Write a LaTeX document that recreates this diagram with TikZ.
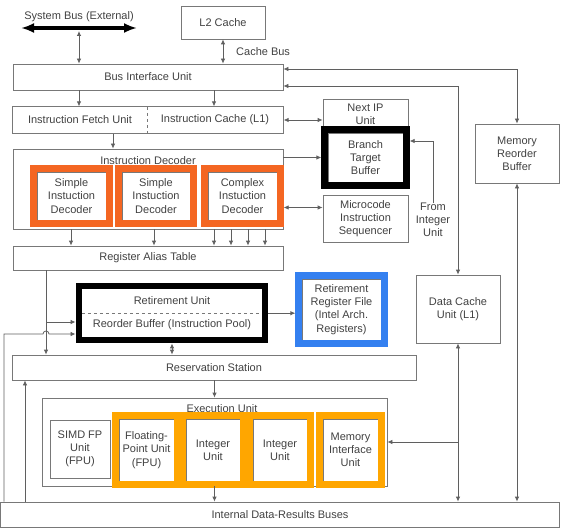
\documentclass[tikz,border=0pt]{standalone}
\usepackage{fontspec}
\setmainfont{Liberation Sans}
\usetikzlibrary{positioning,arrows.meta,fit}
\definecolor{cpuLine}{RGB}{95,95,95}
\definecolor{cpuBox}{RGB}{120,120,120}
\definecolor{cpuText}{RGB}{65,65,65}
\definecolor{cpuOrange}{RGB}{244,102,34}
\definecolor{cpuAmber}{RGB}{255,166,0}
\definecolor{cpuBlue}{RGB}{52,128,240}

\begin{document}
\begin{tikzpicture}[x=1pt, y=-1pt,
  font=\fontsize{11}{13.2}\selectfont,
  unit/.style={draw=cpuBox, line width=0.8pt, text=cpuText, align=center, inner sep=0pt},
  txt/.style={text=cpuText, align=center, inner sep=0pt},
  hl/.style={draw=#1, line width=6.5pt, inner sep=3pt},
  link/.style={draw=cpuLine, line width=0.8pt, -{Latex[length=5pt,width=4.5pt]}},
  dlink/.style={link, {Latex[length=5pt,width=4.5pt]}-{Latex[length=5pt,width=4.5pt]}},
  sysbus/.style={line width=3.2pt, {Latex[length=13pt,width=10pt]}-{Latex[length=13pt,width=10pt]}}]
  \useasboundingbox (0,0) rectangle (565,532);
  \coordinate (sbL) at (21,28);
  \coordinate (sbR) at (137,28);
  \coordinate (sbTap) at (79,31);
  \node[txt] (sblabel) at (79,17) {System Bus (External)};
  \draw[sysbus] (sbL) -- (sbR);
  \node[unit, minimum width=84, minimum height=33] (l2) at (223,22.5) {L2 Cache};
  \node[txt, anchor=west] (cachebus) at (236,52) {Cache Bus};
  \node[unit, minimum width=270, minimum height=26] (biu) at (148,77) {Bus Interface Unit};
  \node[txt, minimum width=134, minimum height=26] (ifu) at (80,120) {Instruction Fetch Unit};
  \node[txt, minimum width=136, minimum height=26] (icache) at (215,120) {Instruction Cache (L1)};
  \node[unit, fit=(ifu)(icache)] (fetch) {};
  \draw[cpuBox, dashed] (ifu.north east) -- (ifu.south east);

  \node[unit, minimum width=270, minimum height=80] (idec) at (148,189) {};
  \node[txt] (idectitle) at (148,161) {Instruction Decoder};
  \node[unit, minimum width=69, minimum height=48] (sd1) at (71.5,196) {Simple\\Instuction\\Decoder};
  \node[unit, minimum width=68, minimum height=48] (sd2) at (156,196) {Simple\\Instuction\\Decoder};
  \node[unit, minimum width=69, minimum height=48] (cd) at (242.5,196) {Complex\\Instuction\\Decoder};
  \node[hl=cpuOrange, fit=(sd1)] (sd1F) {};
  \node[hl=cpuOrange, fit=(sd2)] (sd2F) {};
  \node[hl=cpuOrange, fit=(cd)] (cdF) {};
  \node[unit, minimum width=270, minimum height=24] (rat) at (148,258) {Register Alias Table};

  \node[unit, minimum width=85, minimum height=31] (nextip) at (365.5,114.5) {Next IP\\Unit};
  \node[unit, minimum width=75, minimum height=49] (btb) at (365.5,157.5) {Branch\\Target\\Buffer};
  \node[hl=black, fit=(btb)] (btbF) {};
  \node[unit, minimum width=85, minimum height=47] (mis) at (365.5,218.5) {Microcode\\Instruction\\Sequencer};
  \node[txt] (fromint) at (433,220) {From\\Integer\\Unit};
  \node[unit, minimum width=84, minimum height=59] (mrb) at (517,153.5) {Memory\\Reorder\\Buffer};
  \node[unit, minimum width=84, minimum height=68] (dcache) at (458,309) {Data Cache\\Unit (L1)};

  \node[txt, minimum width=180, minimum height=24] (retu) at (172,301) {Retirement Unit};
  \node[txt, minimum width=180, minimum height=24] (rob) at (172,325) {Reorder Buffer (Instruction Pool)};
  \draw[cpuBox, dashed] (retu.south west) -- (retu.south east);
  \node[hl=black, fit=(retu)(rob)] (retF) {};
  \node[unit, minimum width=79, minimum height=61] (rrf) at (341.5,309.5) {Retirement\\Register File\\(Intel Arch.\\Registers)};
  \node[hl=cpuBlue, fit=(rrf)] (rrfF) {};

  \node[unit, minimum width=404, minimum height=25] (resv) at (214,367.5) {Reservation Station};
  \node[unit, minimum width=345, minimum height=88] (eu) at (214.5,442) {};
  \node[txt] (eutitle) at (222,409) {Execution Unit};
  \node[unit, minimum width=60, minimum height=58] (simd) at (80,449) {SIMD FP\\Unit\\(FPU)};
  \node[unit, minimum width=55, minimum height=62] (fpu) at (146.5,450) {Floating-\\Point Unit\\(FPU)};
  \node[unit, minimum width=54, minimum height=62] (int1) at (213,450) {Integer\\Unit};
  \node[unit, minimum width=54, minimum height=62] (int2) at (280,450) {Integer\\Unit};
  \node[unit, minimum width=55, minimum height=62] (miu) at (350.5,450) {Memory\\Interface\\Unit};
  \node[hl=cpuAmber, fit=(fpu)] (fpuF) {};
  \node[hl=cpuAmber, fit=(int1)] (int1F) {};
  \node[hl=cpuAmber, fit=(int2)] (int2F) {};
  \node[hl=cpuAmber, fit=(miu)] (miuF) {};
  \node[unit, minimum width=559, minimum height=25] (buses) at (280,514.5) {Internal Data-Results Buses};

  \draw[dlink] (sbTap) -- (biu.north -| sbTap);
  \draw[dlink] (l2.south) -- (biu.north -| l2.south);
  \draw[link] (biu.south -| 79,0) -- (fetch.north -| 79,0);
  \draw[link] (biu.south -| 214,0) -- (fetch.north -| 214,0);
  \draw[link] (fetch.south -| 113,0) -- (idec.north -| 113,0);
  \draw[dlink] (fetch.east) -- (nextip.west |- fetch.east);
  \draw[link] (idec.east |- btbF.west) -- (btbF.west);
  \draw[dlink] (cdF.east |- 0,207.5) -- (mis.west |- 0,207.5);
  \draw[link] (fromint.north) |- (btbF.east |- 0,141);
  \draw[dlink] (biu.east |- 0,69) -| (mrb.north);
  \draw[dlink] (biu.east |- 0,86) -| (dcache.north);
  \foreach \xx in {71,154,214,231,248,265}
    \draw[link] (idec.south -| \xx,0) -- (rat.north -| \xx,0);

  \coordinate (ratTap) at (46,322);
  \coordinate (busTap) at (4,334);
  \draw[link] (rat.south -| ratTap) -- (resv.north -| ratTap);
  \draw[link] (ratTap) -- (retF.west |- ratTap);
  \draw[link] (buses.north -| busTap) -- (busTap) -- ([xshift=-3pt]busTap -| ratTap)
    arc[start angle=180, end angle=0, radius=3pt] -- (retF.west |- busTap);
  \draw[dlink] (retF.south) -- (resv.north -| retF.south);
  \draw[link] (retF.east |- retu.south) -- (rrfF.west |- retu.south);
  \draw[link] (resv.south -| eu.north) -- (eu.north);
  \draw[link] (eu.south) -- (buses.north -| eu.south);
  \draw[link] (buses.north -| 25,0) -- (resv.south -| 25,0);
  \draw[dlink] (dcache.south) -- (buses.north -| dcache.south);
  \draw[link] (dcache.south |- eu.east) -- (eu.east);
  \draw[dlink] (mrb.south) -- (buses.north -| mrb.south);
\end{tikzpicture}
\end{document}
